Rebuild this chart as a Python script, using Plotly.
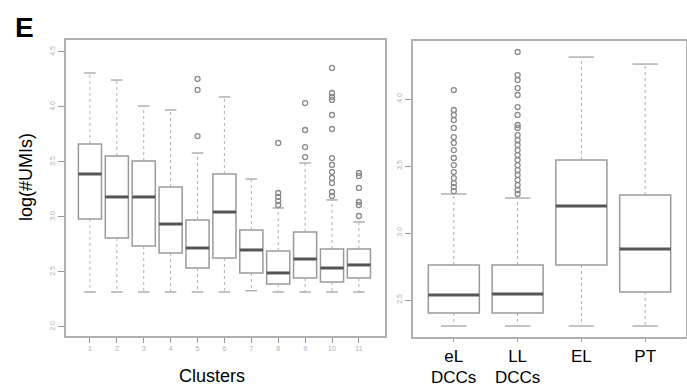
import plotly.graph_objects as go

# ---------------- data ----------------
clusters = ["1", "2", "3", "4", "5", "6", "7", "8", "9", "10", "11"]
cl_upper = [4.309, 4.245, 4.009, 3.973, 3.582, 4.091, 3.345, 3.082, 3.491, 3.155, 2.955]
cl_q3 = [3.664, 3.555, 3.509, 3.273, 2.973, 3.391, 2.882, 2.691, 2.864, 2.709, 2.709]
cl_median = [3.391, 3.182, 3.182, 2.936, 2.718, 3.045, 2.700, 2.491, 2.618, 2.536, 2.564]
cl_q1 = [2.982, 2.809, 2.736, 2.673, 2.536, 2.627, 2.491, 2.391, 2.445, 2.409, 2.445]
cl_lower = [2.318, 2.318, 2.318, 2.318, 2.318, 2.318, 2.330, 2.318, 2.318, 2.318, 2.318]
cl_outliers = {
    "5": [4.255, 4.155, 3.736],
    "8": [3.673, 3.218, 3.182, 3.145, 3.109],
    "9": [4.036, 3.791, 3.636, 3.545],
    "10": [4.355, 4.127, 4.091, 4.064, 3.927, 3.800, 3.536, 3.473, 3.409, 3.355, 3.309, 3.227, 3.191],
    "11": [3.400, 3.373, 3.264, 3.136, 3.109, 3.009],
}
cl_yticks = [2.0, 2.5, 3.0, 3.5, 4.0, 4.5]

groups_line1 = ["eL", "LL", "EL", "PT"]
groups_line2 = ["DCCs", "DCCs", "", ""]
gr_upper = [3.291, 3.261, 4.313, 4.261]
gr_q3 = [2.761, 2.761, 3.545, 3.284]
gr_median = [2.537, 2.545, 3.201, 2.881]
gr_q1 = [2.403, 2.403, 2.761, 2.560]
gr_lower = [2.306, 2.306, 2.306, 2.306]
gr_outliers = {
    "eL": [4.067, 3.918, 3.881, 3.843, 3.784, 3.716, 3.672, 3.619, 3.560, 3.507, 3.455, 3.410, 3.373, 3.343, 3.313],
    "LL": [4.351, 4.179, 4.142, 4.082, 4.030, 3.940, 3.881, 3.806, 3.784, 3.731, 3.694, 3.657, 3.619, 3.582,
           3.545, 3.507, 3.470, 3.433, 3.396, 3.358, 3.321, 3.291],
}
gr_yticks = [2.5, 3.0, 3.5, 4.0]

# ---------------- styles ----------------
BOX_COL = "#9a9a9a"
MED_COL = "#555555"
WHISK_COL = "#b0b0b0"
OUT_COL = "#8a8a8a"
FRAME_COL = "#b0b0b0"

fig = go.Figure()


def add_panel(names, upper, q3, med, q1, lower, outliers, xa, ya, width):
    pos = list(range(1, len(names) + 1))
    fig.add_trace(go.Box(
        x=pos, q1=q1, median=med, q3=q3, lowerfence=q1, upperfence=q3,
        width=width, whiskerwidth=0, fillcolor="white",
        line=dict(color=BOX_COL, width=1.5), boxpoints=False,
        xaxis=xa, yaxis=ya, showlegend=False, hoverinfo="skip"))
    for i, p in enumerate(pos):
        cap = width / 4
        fig.add_trace(go.Scatter(x=[p, p, None, p, p], y=[q3[i], upper[i], None, q1[i], lower[i]],
                                 mode="lines", line=dict(color=WHISK_COL, width=1, dash="dot"),
                                 xaxis=xa, yaxis=ya, showlegend=False, hoverinfo="skip"))
        fig.add_trace(go.Scatter(x=[p - cap, p + cap, None, p - cap, p + cap],
                                 y=[upper[i], upper[i], None, lower[i], lower[i]],
                                 mode="lines", line=dict(color=WHISK_COL, width=1.5),
                                 xaxis=xa, yaxis=ya, showlegend=False, hoverinfo="skip"))
        hw = width / 2
        fig.add_trace(go.Scatter(x=[p - hw, p + hw], y=[med[i], med[i]],
                                 mode="lines", line=dict(color=MED_COL, width=3),
                                 xaxis=xa, yaxis=ya, showlegend=False, hoverinfo="skip"))
        outs = outliers.get(names[i], [])
        if outs:
            fig.add_trace(go.Scatter(x=[p] * len(outs), y=outs, mode="markers",
                                     marker=dict(symbol="circle-open", size=5, color=OUT_COL,
                                                 line=dict(width=1.3, color=OUT_COL)),
                                     xaxis=xa, yaxis=ya, showlegend=False, hoverinfo="skip"))


add_panel(clusters, cl_upper, cl_q3, cl_median, cl_q1, cl_lower, cl_outliers, "x", "y", 0.86)
add_panel(groups_line1, gr_upper, gr_q3, gr_median, gr_q1, gr_lower, gr_outliers, "x2", "y2", 0.8)

W, H = 687, 387
axis_common = dict(showline=True, mirror=True, linecolor=FRAME_COL, linewidth=2,
                   showgrid=False, zeroline=False, ticks="outside", tickcolor="#999999")

fig.update_layout(
    width=W, height=H, autosize=False,
    margin=dict(l=0, r=0, t=0, b=0),
    paper_bgcolor="white", plot_bgcolor="white",
    font=dict(family="Liberation Sans, Arial, sans-serif", color="black"),
    xaxis=dict(domain=[66 / W, 385 / W], range=[0.11, 11.97], anchor="y",
               tickvals=list(range(1, 12)), ticktext=clusters, ticklen=5,
               tickfont=dict(size=7, color="#b0b0b0"), **axis_common),
    yaxis=dict(domain=[(H - 336) / H, (H - 40) / H], range=[1.918, 4.609], anchor="x",
               tickvals=cl_yticks, ticktext=[f"{v:.1f}" for v in cl_yticks], ticklen=6,
               tickangle=-90, tickfont=dict(size=7, color="#b0b0b0"), **axis_common),
    xaxis2=dict(domain=[413 / W, 686 / W], range=[0.36, 4.64], anchor="y2",
                tickvals=[1, 2, 3, 4], ticktext=groups_line1, ticklen=3,
                tickfont=dict(size=17, color="black"), **axis_common),
    yaxis2=dict(domain=[(H - 337) / H, (H - 41) / H], range=[2.224, 4.433], anchor="x2",
                tickvals=gr_yticks, ticktext=[f"{v:.1f}" for v in gr_yticks], ticklen=6,
                tickangle=-90, tickfont=dict(size=7, color="#b0b0b0"), **axis_common),
)

ann = [
    dict(text="<b>E</b>", x=24 / W, y=1 - 27 / H, xref="paper", yref="paper",
         showarrow=False, font=dict(size=28, color="black"), xanchor="center", yanchor="middle"),
    dict(text="log(#UMIs)", x=26 / W, y=1 - 177 / H, xref="paper", yref="paper", textangle=-90,
         showarrow=False, font=dict(size=18, color="black"), xanchor="center", yanchor="middle"),
    dict(text="Clusters", x=212 / W, y=1 - 376 / H, xref="paper", yref="paper",
         showarrow=False, font=dict(size=18, color="black"), xanchor="center", yanchor="middle"),
]
for i, t in enumerate(groups_line2):
    if t:
        ann.append(dict(text=t, x=i + 1, xref="x2", y=1 - 377 / H, yref="paper", showarrow=False,
                        font=dict(size=17, color="black"), xanchor="center", yanchor="middle"))
fig.update_layout(annotations=ann)

fig.write_html("out.html")
